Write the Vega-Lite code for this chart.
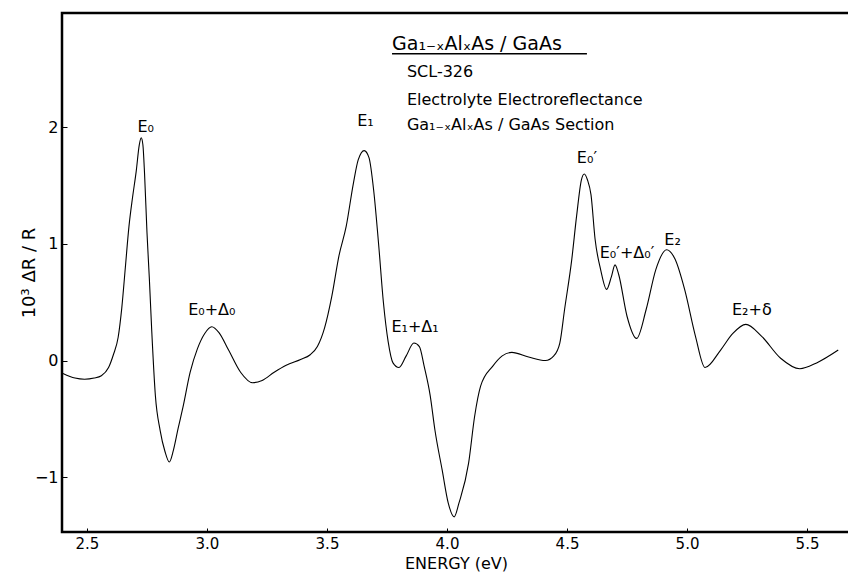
{
  "$schema": "https://vega.github.io/schema/vega-lite/v6.json",
  "width": 788,
  "height": 519,
  "autosize": {"type": "none"},
  "padding": {"left": 62, "top": 13, "right": 0, "bottom": 43},
  "background": "white",
  "config": {
    "view": {"stroke": "black", "strokeWidth": 2.5},
    "font": "DejaVu Sans",
    "text": {"font": "DejaVu Sans"}
  },
  "datasets": {
    "curve": [
      {"energy": 2.40, "dr": -0.11}, {"energy": 2.45, "dr": -0.15}, {"energy": 2.49, "dr": -0.16},
      {"energy": 2.53, "dr": -0.15}, {"energy": 2.56, "dr": -0.13}, {"energy": 2.59, "dr": -0.06},
      {"energy": 2.61, "dr": 0.05}, {"energy": 2.63, "dr": 0.2}, {"energy": 2.645, "dr": 0.45},
      {"energy": 2.66, "dr": 0.8}, {"energy": 2.675, "dr": 1.15}, {"energy": 2.69, "dr": 1.4},
      {"energy": 2.705, "dr": 1.62}, {"energy": 2.718, "dr": 1.85}, {"energy": 2.726, "dr": 1.91},
      {"energy": 2.733, "dr": 1.85}, {"energy": 2.74, "dr": 1.6}, {"energy": 2.75, "dr": 1.1},
      {"energy": 2.76, "dr": 0.7}, {"energy": 2.77, "dr": 0.25}, {"energy": 2.785, "dr": -0.3},
      {"energy": 2.805, "dr": -0.6}, {"energy": 2.825, "dr": -0.78}, {"energy": 2.843, "dr": -0.87},
      {"energy": 2.86, "dr": -0.77}, {"energy": 2.88, "dr": -0.58}, {"energy": 2.9, "dr": -0.4},
      {"energy": 2.93, "dr": -0.1}, {"energy": 2.96, "dr": 0.1}, {"energy": 2.99, "dr": 0.23},
      {"energy": 3.02, "dr": 0.29}, {"energy": 3.05, "dr": 0.24}, {"energy": 3.09, "dr": 0.09},
      {"energy": 3.14, "dr": -0.1}, {"energy": 3.19, "dr": -0.19}, {"energy": 3.23, "dr": -0.17},
      {"energy": 3.28, "dr": -0.1}, {"energy": 3.33, "dr": -0.04}, {"energy": 3.39, "dr": 0.01},
      {"energy": 3.43, "dr": 0.05}, {"energy": 3.46, "dr": 0.12}, {"energy": 3.49, "dr": 0.28},
      {"energy": 3.52, "dr": 0.55}, {"energy": 3.55, "dr": 0.9}, {"energy": 3.58, "dr": 1.15},
      {"energy": 3.61, "dr": 1.52}, {"energy": 3.63, "dr": 1.72}, {"energy": 3.655, "dr": 1.8},
      {"energy": 3.675, "dr": 1.74}, {"energy": 3.695, "dr": 1.45}, {"energy": 3.715, "dr": 1.0},
      {"energy": 3.735, "dr": 0.5}, {"energy": 3.755, "dr": 0.16}, {"energy": 3.775, "dr": -0.02},
      {"energy": 3.8, "dr": -0.06}, {"energy": 3.83, "dr": 0.04}, {"energy": 3.862, "dr": 0.15},
      {"energy": 3.885, "dr": 0.12}, {"energy": 3.905, "dr": -0.05}, {"energy": 3.93, "dr": -0.3},
      {"energy": 3.95, "dr": -0.6}, {"energy": 3.98, "dr": -0.94}, {"energy": 4.005, "dr": -1.22},
      {"energy": 4.03, "dr": -1.34}, {"energy": 4.05, "dr": -1.22}, {"energy": 4.09, "dr": -0.88},
      {"energy": 4.115, "dr": -0.48}, {"energy": 4.14, "dr": -0.22}, {"energy": 4.19, "dr": -0.05},
      {"energy": 4.23, "dr": 0.04}, {"energy": 4.27, "dr": 0.07}, {"energy": 4.34, "dr": 0.03},
      {"energy": 4.41, "dr": 0.0}, {"energy": 4.445, "dr": 0.04}, {"energy": 4.47, "dr": 0.15},
      {"energy": 4.49, "dr": 0.44}, {"energy": 4.52, "dr": 0.87}, {"energy": 4.54, "dr": 1.24},
      {"energy": 4.56, "dr": 1.55}, {"energy": 4.572, "dr": 1.6}, {"energy": 4.585, "dr": 1.55},
      {"energy": 4.6, "dr": 1.42}, {"energy": 4.617, "dr": 1.04}, {"energy": 4.64, "dr": 0.78},
      {"energy": 4.665, "dr": 0.61}, {"energy": 4.685, "dr": 0.72}, {"energy": 4.7, "dr": 0.82},
      {"energy": 4.715, "dr": 0.74}, {"energy": 4.75, "dr": 0.38}, {"energy": 4.79, "dr": 0.19},
      {"energy": 4.83, "dr": 0.44}, {"energy": 4.87, "dr": 0.78}, {"energy": 4.915, "dr": 0.95},
      {"energy": 4.95, "dr": 0.87}, {"energy": 4.99, "dr": 0.61}, {"energy": 5.035, "dr": 0.21},
      {"energy": 5.075, "dr": -0.06}, {"energy": 5.14, "dr": 0.09}, {"energy": 5.19, "dr": 0.23},
      {"energy": 5.245, "dr": 0.31}, {"energy": 5.31, "dr": 0.21}, {"energy": 5.39, "dr": 0.02},
      {"energy": 5.47, "dr": -0.07}, {"energy": 5.54, "dr": -0.02}, {"energy": 5.63, "dr": 0.09}
    ],
    "peaks": [
      {"energy": 2.745, "dr": 2.0, "label": "E₀"},
      {"energy": 3.02, "dr": 0.43, "label": "E₀+Δ₀"},
      {"energy": 3.66, "dr": 2.05, "label": "E₁"},
      {"energy": 3.867, "dr": 0.29, "label": "E₁+Δ₁"},
      {"energy": 4.583, "dr": 1.74, "label": "E₀′"},
      {"energy": 4.75, "dr": 0.92, "label": "E₀′+Δ₀′"},
      {"energy": 4.94, "dr": 1.03, "label": "E₂"},
      {"energy": 5.27, "dr": 0.43, "label": "E₂+δ"}
    ],
    "heading": [
      {"energy": 3.771, "dr": 2.665, "label": "Ga₁₋ₓAlₓAs / GaAs"}
    ],
    "notes": [
      {"energy": 3.833, "dr": 2.433, "label": "SCL-326"},
      {"energy": 3.833, "dr": 2.193, "label": "Electrolyte  Electroreflectance"},
      {"energy": 3.833, "dr": 1.978, "label": "Ga₁₋ₓAlₓAs / GaAs  Section"}
    ],
    "underline": [
      {"start": 3.771, "end": 4.583, "dr": 2.63}
    ]
  },
  "encoding": {
    "x": {
      "field": "energy",
      "type": "quantitative",
      "scale": {"domain": [2.396, 5.679], "nice": false, "zero": false},
      "axis": {
        "title": "ENERGY (eV)",
        "values": [2.5, 3.0, 3.5, 4.0, 4.5, 5.0, 5.5],
        "format": ".1f",
        "grid": false,
        "domain": false,
        "tickColor": "black",
        "tickSize": -4,
        "labelPadding": 8,
        "labelFontSize": 15,
        "labelColor": "black",
        "titleFontSize": 16,
        "titleFontWeight": "normal",
        "titleColor": "black",
        "titlePadding": 4
      }
    },
    "y": {
      "field": "dr",
      "type": "quantitative",
      "scale": {"domain": [-1.47, 2.98], "nice": false, "zero": false},
      "axis": {
        "title": "10³ ΔR / R",
        "values": [-1, 0, 1, 2],
        "format": "d",
        "grid": false,
        "domain": false,
        "tickColor": "black",
        "tickSize": -5,
        "labelPadding": 9,
        "labelFontSize": 16,
        "labelColor": "black",
        "titleFontSize": 18,
        "titleFontWeight": "normal",
        "titleColor": "black",
        "titlePadding": -4
      }
    }
  },
  "layer": [
    {
      "data": {"name": "curve"},
      "mark": {"type": "line", "color": "black", "strokeWidth": 1.1, "interpolate": "monotone"}
    },
    {
      "data": {"name": "peaks"},
      "mark": {"type": "text", "fontSize": 16, "color": "black", "align": "center", "baseline": "middle"},
      "encoding": {"text": {"field": "label"}}
    },
    {
      "data": {"name": "heading"},
      "mark": {"type": "text", "fontSize": 19, "color": "black", "align": "left", "baseline": "alphabetic"},
      "encoding": {"text": {"field": "label"}}
    },
    {
      "data": {"name": "notes"},
      "mark": {"type": "text", "fontSize": 16, "color": "black", "align": "left", "baseline": "alphabetic"},
      "encoding": {"text": {"field": "label"}}
    },
    {
      "data": {"name": "underline"},
      "mark": {"type": "rule", "color": "black", "strokeWidth": 1.5},
      "encoding": {
        "x": {"field": "start", "type": "quantitative"},
        "x2": {"field": "end"},
        "y": {"field": "dr", "type": "quantitative"}
      }
    }
  ]
}
